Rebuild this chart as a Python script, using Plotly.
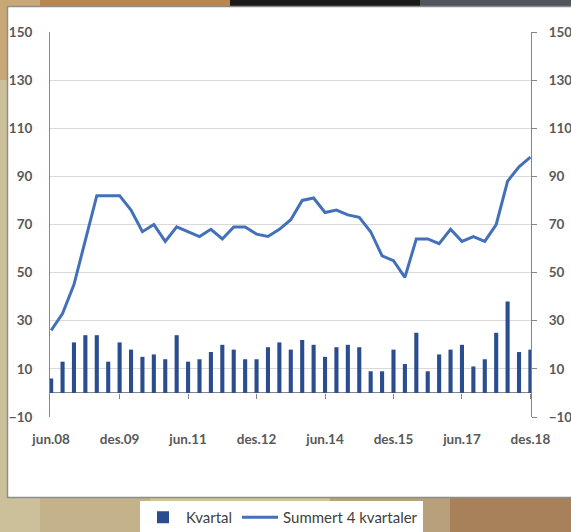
import plotly.graph_objects as go

quarters = [
    "jun.08", "sep.08", "des.08", "mar.09", "jun.09", "sep.09", "des.09",
    "mar.10", "jun.10", "sep.10", "des.10", "mar.11", "jun.11", "sep.11",
    "des.11", "mar.12", "jun.12", "sep.12", "des.12", "mar.13", "jun.13",
    "sep.13", "des.13", "mar.14", "jun.14", "sep.14", "des.14", "mar.15",
    "jun.15", "sep.15", "des.15", "mar.16", "jun.16", "sep.16", "des.16",
    "mar.17", "jun.17", "sep.17", "des.17", "mar.18", "jun.18", "sep.18",
    "des.18",
]
kvartal = [6, 13, 21, 24, 24, 13, 21, 18, 15, 16, 14, 24, 13, 14, 17, 20, 18, 14,
           14, 19, 21, 18, 22, 20, 15, 19, 20, 19, 9, 9, 18, 12, 25, 9, 16, 18,
           20, 11, 14, 25, 38, 17, 18]
summert = [26, 33, 45, 64, 82, 82, 82, 76, 67, 70, 63, 69, 67, 65, 68, 64, 69, 69,
           66, 65, 68, 72, 80, 81, 75, 76, 74, 73, 67, 57, 55, 48, 64, 64, 62, 68,
           63, 65, 63, 70, 88, 94, 98]
x_ticks = ["jun.08", "des.09", "jun.11", "des.12", "jun.14", "des.15", "jun.17", "des.18"]
y_ticks = [-10, 10, 30, 50, 70, 90, 110, 130, 150]

W, H = 571, 532
L, R, T, B = 50, 531, 32, 417
FONT = "Lato"
LABEL = dict(family=FONT, size=13.5, color="#595959", weight="bold")
AXIS = "#868686"
XR = [-0.1, 42.05]


def px(p):
    return (p - L) / (R - L)


def py(p):
    return (B - p) / (B - T)


def rect(x0, x1, y0, y1, color, line=None):
    return dict(type="rect", xref="paper", yref="paper",
                x0=px(x0), x1=px(x1), y0=py(y1), y1=py(y0),
                fillcolor=color, line=line or dict(width=0), layer="below")


fig = go.Figure()
fig.add_trace(go.Bar(x=quarters, y=kvartal, name="Kvartal", marker_color="#2a4d8f",
                     width=0.36, xaxis="x", yaxis="y"))
fig.add_trace(go.Scatter(x=quarters, y=summert, name="Summert 4 kvartaler", mode="lines",
                         line=dict(color="#4270b9", width=3), xaxis="x2", yaxis="y2"))

shapes = [
    # photo-like background pieces
    rect(-20, 40, -20, 600, "#cbc09a"),
    rect(-20, 40, -20, 80, "#c9a878"),
    rect(40, 230, -20, 8, "#b8864e"),
    rect(230, 420, -20, 8, "#1c1a18"),
    rect(420, 600, -20, 8, "#50565b"),
    rect(40, 150, 490, 600, "#c3b28a"),
    rect(150, 330, 490, 600, "#d2c49a"),
    rect(330, 450, 490, 600, "#b8a07a"),
    rect(450, 600, 490, 600, "#a8805a"),
    # white chart card
    rect(7.5, 600, 6.5, 497.5, "white", dict(color="#8c8c8c", width=1.5)),
]

fig.update_layout(
    template="none",
    width=W, height=H, autosize=False,
    margin=dict(l=L, r=W - R, t=T, b=H - B, pad=0),
    paper_bgcolor="#c4ad84", plot_bgcolor="white",
    font=dict(family=FONT, color="#595959"),
    shapes=shapes,
    showlegend=True,
    legend=dict(orientation="h", xref="container", yref="container",
                x=140 / W, xanchor="left", y=1 - 501 / H, yanchor="top",
                bgcolor="white", borderwidth=0,
                font=dict(family=FONT, size=15, color="#404040"),
                itemwidth=36, traceorder="normal"),
    xaxis=dict(type="category", categoryarray=quarters, range=XR, automargin=False,
               tickvals=x_ticks, ticktext=x_ticks, ticks="", showline=False,
               showgrid=False, zeroline=False, tickfont=LABEL, ticklabelstandoff=12),
    xaxis2=dict(type="category", categoryarray=quarters, range=XR, overlaying="x",
                anchor="free", position=10 / 160, side="bottom", automargin=False,
                tickvals=x_ticks[1:], ticks="outside", ticklen=5, tickcolor=AXIS,
                tickwidth=1, showticklabels=False, showline=False, showgrid=False,
                zeroline=False),
    yaxis=dict(range=[-10, 150], tickvals=y_ticks, showgrid=True, gridcolor="#d9d9d9",
               gridwidth=1, zeroline=True, zerolinecolor=AXIS, zerolinewidth=1,
               showline=True, linecolor=AXIS, linewidth=1, ticks="", automargin=False,
               tickfont=LABEL, ticklabelstandoff=14),
    yaxis2=dict(range=[-10, 150], tickvals=y_ticks, overlaying="y", side="right",
                anchor="x2", showgrid=False, zeroline=False, showline=True,
                linecolor=AXIS, linewidth=1, ticks="outside", ticklen=5, tickwidth=1,
                tickcolor=AXIS, tickfont=LABEL, ticklabelstandoff=9, automargin=False),
)

fig.write_html("out.html", config={"displayModeBar": False},
               post_script="document.body.style.margin='0px';"
                           "document.body.style.overflow='hidden';")
